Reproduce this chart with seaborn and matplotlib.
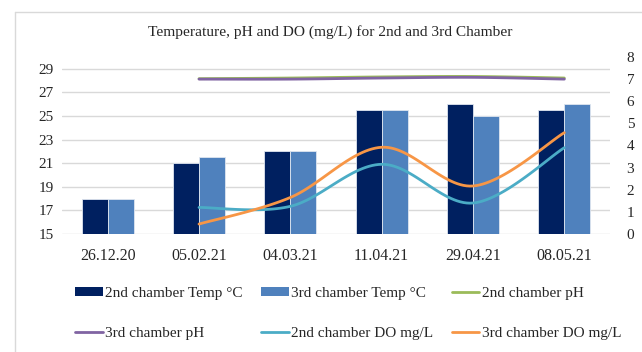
import numpy as np
import pandas as pd
import matplotlib
matplotlib.use("Agg")
import matplotlib.pyplot as plt
import seaborn as sns
from matplotlib.patches import Patch
from matplotlib.lines import Line2D

# ---------------- data ----------------
dates = ["26.12.20", "05.02.21", "04.03.21", "11.04.21", "29.04.21", "08.05.21"]
temp_2nd = [18, 21, 22, 25.5, 26, 25.5]
temp_3rd = [18, 21.5, 22, 25.5, 25, 26]
line_dates = ["05.02.21", "04.03.21", "11.04.21", "29.04.21", "08.05.21"]
ph_2nd = [7.02, 7.05, 7.1, 7.12, 7.05]
ph_3rd = [7.0, 7.0, 7.05, 7.08, 7.0]
do_2nd = [1.2, 1.25, 3.15, 1.4, 3.9]
do_3rd = [0.45, 1.65, 3.92, 2.17, 4.58]

title = "Temperature, pH and DO (mg/L) for 2nd and 3rd Chamber"
bar_names = ["2nd chamber Temp °C", "3rd chamber Temp °C"]
line_names = ["2nd chamber pH", "3rd chamber pH", "2nd chamber DO mg/L", "3rd chamber DO mg/L"]

bar_colors = ["#002060", "#4f81bd"]
line_colors = ["#9bbb59", "#8064a2", "#4bacc6", "#f79646"]

sns.set_theme(style="white")
plt.rcParams["font.family"] = ["Liberation Serif", "DejaVu Serif"]

fig = plt.figure(figsize=(6.42, 3.52), dpi=100)
ax = fig.add_axes([62 / 642, 1 - 234 / 352, (610 - 62) / 642, (234 - 57) / 352])

bars = pd.DataFrame({
    "date": dates * 2,
    "temp": temp_2nd + temp_3rd,
    "series": [bar_names[0]] * len(dates) + [bar_names[1]] * len(dates),
})
sns.barplot(data=bars, x="date", y="temp", hue="series", order=dates,
            hue_order=bar_names, palette=bar_colors, width=0.57, gap=0,
            saturation=1, edgecolor="#dfe6f0", linewidth=0.6, ax=ax,
            legend=False)
ax.set_ylim(15, 30)
ax.set_yticks(np.arange(15, 30, 2))
ax.set_xlim(-0.5, len(dates) - 0.5)
ax.grid(axis="y", color="#d9d9d9", linewidth=1)
ax.set_axisbelow(True)
ax.set_xlabel("")
ax.set_ylabel("")
for s in ax.spines.values():
    s.set_visible(False)
ax.tick_params(axis="both", length=0, labelsize=11, colors="#262626")
ax.tick_params(axis="y", pad=6)
ax.tick_params(axis="x", pad=10, labelsize=11.5)


def smooth(xs, ys, n=30):
    xs = np.asarray(xs, float)
    ys = np.asarray(ys, float)
    px = np.concatenate([[xs[0]], xs, [xs[-1]]])
    py = np.concatenate([[ys[0]], ys, [ys[-1]]])
    outx, outy = [], []
    t = np.linspace(0, 1, n)
    for i in range(1, len(px) - 2):
        p0 = np.array([px[i], py[i]])
        p3 = np.array([px[i + 1], py[i + 1]])
        b1 = p0 + (p3 - np.array([px[i - 1], py[i - 1]])) / 6
        b2 = p3 - (np.array([px[i + 2], py[i + 2]]) - p0) / 6
        pts = ((1 - t) ** 3)[:, None] * p0 + (3 * (1 - t) ** 2 * t)[:, None] * b1 \
            + (3 * (1 - t) * t ** 2)[:, None] * b2 + (t ** 3)[:, None] * p3
        outx.extend(pts[:, 0])
        outy.extend(pts[:, 1])
    return outx, outy


ax2 = ax.twinx()
xpos = [dates.index(d) for d in line_dates]
frames = []
for name, vals in zip(line_names, [ph_2nd, ph_3rd, do_2nd, do_3rd]):
    sx, sy = smooth(xpos, vals)
    frames.append(pd.DataFrame({"x": sx, "y": sy, "series": name,
                                "order": np.arange(len(sx))}))
lines = pd.concat(frames, ignore_index=True)
sns.lineplot(data=lines, x="x", y="y", hue="series", hue_order=line_names,
             palette=line_colors, sort=False, estimator=None, units="series",
             linewidth=2, ax=ax2, legend=False)
ax2.set_ylim(0, 8)
ax2.set_yticks(range(0, 9))
ax2.set_xlim(-0.5, len(dates) - 0.5)
ax2.set_xlabel("")
ax2.set_ylabel("")
for s in ax2.spines.values():
    s.set_visible(False)
ax2.tick_params(axis="y", length=0, labelsize=11, colors="#262626", pad=12)

fig.text(330 / 642, 1 - 32 / 352, title, ha="center", va="center",
         fontsize=11.1, color="#262626")

handles = [Patch(facecolor=c, edgecolor="none") for c in bar_colors] + \
          [Line2D([0], [0], color=c, lw=2) for c in line_colors]
labels = bar_names + line_names
order = [0, 3, 1, 4, 2, 5]
fig.legend([handles[i] for i in order], [labels[i] for i in order],
           ncol=3, loc="center", bbox_to_anchor=(348 / 642, 1 - 313.5 / 352),
           frameon=False, fontsize=11, handlelength=1.83, handleheight=0.6,
           handletextpad=0.15, columnspacing=1.2, labelspacing=1.8,
           labelcolor="#262626")

# chart frame (top and left edges visible)
fig.add_artist(Line2D([15 / 642, 1], [1 - 12 / 352, 1 - 12 / 352],
                      color="#d9d9d9", lw=1, transform=fig.transFigure))
fig.add_artist(Line2D([15 / 642, 15 / 642], [0, 1 - 12 / 352],
                      color="#d9d9d9", lw=1, transform=fig.transFigure))

fig.savefig("out.png", dpi=100, facecolor="white")
